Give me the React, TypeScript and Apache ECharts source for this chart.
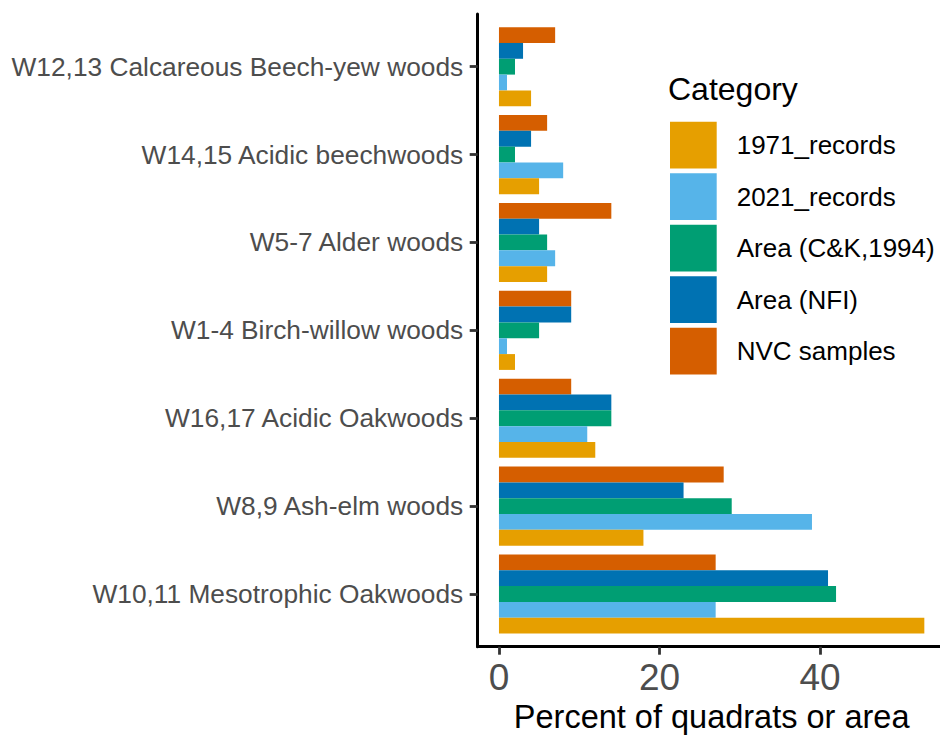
import React, { useEffect, useRef } from "react";
import * as echarts from "echarts";

const categories = [
  "W10,11 Mesotrophic Oakwoods",
  "W8,9 Ash-elm woods",
  "W16,17 Acidic Oakwoods",
  "W1-4 Birch-willow woods",
  "W5-7 Alder woods",
  "W14,15 Acidic beechwoods",
  "W12,13 Calcareous Beech-yew woods",
];
const seriesNames = ["1971_records", "2021_records", "Area (C&K,1994)", "Area (NFI)", "NVC samples"];
const records1971 = [53, 18, 12, 2, 6, 5, 4];
const records2021 = [27, 39, 11, 1, 7, 8, 1];
const areaCK = [42, 29, 14, 5, 6, 2, 2];
const areaNFI = [41, 23, 14, 9, 5, 4, 3];
const nvcSamples = [27, 28, 9, 9, 14, 6, 7];
const colors = ["#E69F00", "#56B4E9", "#009E73", "#0072B2", "#D55E00"];
const xTicks = [0, 20, 40];

const FONT = "'Liberation Sans', Arial, sans-serif";

export default function App() {
  const ref = useRef<HTMLDivElement>(null);
  useEffect(() => {
    if (!ref.current) return;
    const chart = echarts.init(ref.current, null, { renderer: "svg" });
    const values = [records1971, records2021, areaCK, areaNFI, nvcSamples];
    const xMin = -2.65;
    const xMax = 55.65;
    // ECharts stacks bars top-down within a band; add series last-to-first so 1971 sits at the bottom
    const order = [4, 3, 2, 1, 0];
    chart.setOption({
      animation: false,
      backgroundColor: "#ffffff",
      textStyle: { fontFamily: FONT },
      title: {
        text: "Category",
        left: 668,
        top: 73,
        padding: 0,
        textStyle: { fontSize: 32, fontWeight: "normal", color: "#000000", fontFamily: FONT },
      },
      legend: {
        orient: "vertical",
        left: 670,
        top: 121.7,
        padding: 0,
        itemWidth: 46.7,
        itemHeight: 46.7,
        itemGap: 4.8,
        icon: "rect",
        data: seriesNames,
        textStyle: { fontSize: 26, color: "#000000", fontFamily: FONT, padding: [0, 0, 0, 15] },
      },
      grid: [
        { left: 477.7, width: 467.9, top: 22.75, bottom: 98.05, containLabel: false, outerBoundsMode: "none" },
        { left: 477.7, width: 467.9, top: 14, bottom: 89.3, containLabel: false, outerBoundsMode: "none" },
      ],
      xAxis: [
        { type: "value", gridIndex: 0, min: xMin, max: xMax, show: false },
        {
          type: "value",
          gridIndex: 1,
          min: xMin,
          max: xMax,
          axisLine: { show: true, onZero: false, lineStyle: { color: "#000000", width: 3 } },
          axisTick: { show: true, length: 8, customValues: xTicks, lineStyle: { color: "#333333", width: 2.8 } },
          axisLabel: { customValues: xTicks, fontSize: 37, color: "#4D4D4D", margin: 12, fontFamily: FONT },
          splitLine: { show: false },
          name: "Percent of quadrats or area",
          nameLocation: "middle",
          nameGap: 52,
          nameTextStyle: { fontSize: 32.5, color: "#000000", fontFamily: FONT },
        },
      ],
      yAxis: [
        {
          type: "category",
          gridIndex: 0,
          data: categories,
          axisLine: { show: false, onZero: false },
          axisTick: { show: true, alignWithLabel: true, length: 8, lineStyle: { color: "#333333", width: 2.8 } },
          axisLabel: { fontSize: 26.3, color: "#4D4D4D", margin: 14.5, fontFamily: FONT },
          splitLine: { show: false },
        },
        {
          type: "value",
          gridIndex: 1,
          min: 0,
          max: 1,
          axisLine: { show: true, onZero: false, lineStyle: { color: "#000000", width: 3 } },
          axisTick: { show: false },
          axisLabel: { show: false },
          splitLine: { show: false },
        },
      ],
      series: order.map((i) => ({
        name: seriesNames[i],
        type: "bar",
        xAxisIndex: 0,
        yAxisIndex: 0,
        data: values[i],
        barGap: "0%",
        barCategoryGap: "10%",
        itemStyle: { color: colors[i] },
      })),
    });
    return () => chart.dispose();
  }, []);
  return <div ref={ref} style={{ position: "fixed", left: 0, top: 0, width: 940, height: 736 }} />;
}
